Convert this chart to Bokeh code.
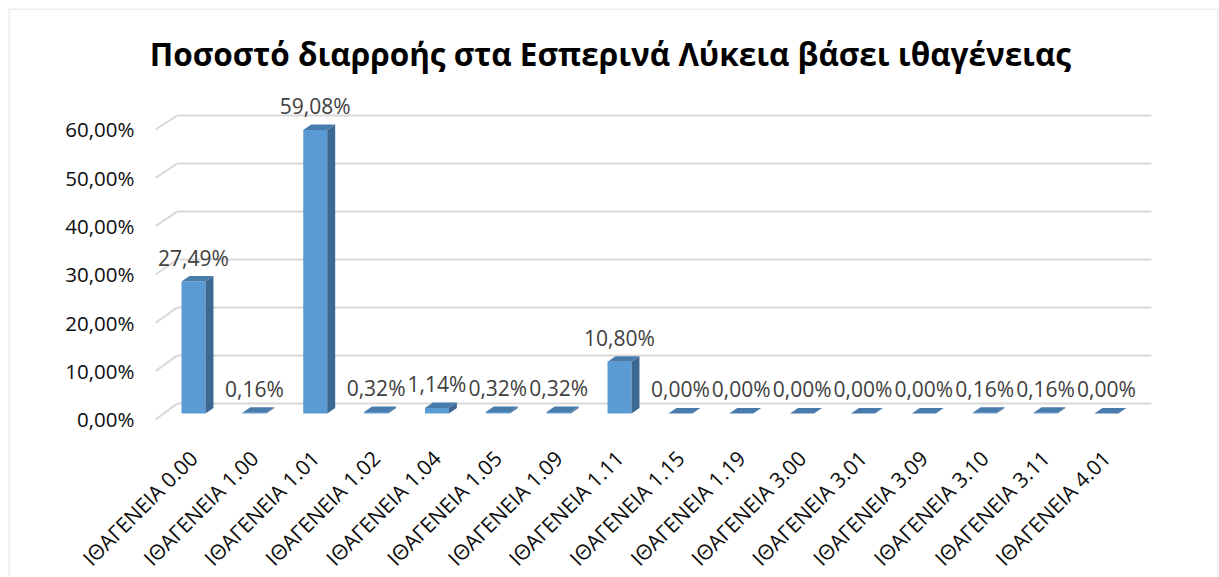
from bokeh.plotting import figure
from bokeh.models import Range1d, ColumnDataSource, Span
from bokeh.core.properties import value
from bokeh.embed import file_html
from bokeh.resources import INLINE

# ---------------- data ----------------
title_text = "Ποσοστό διαρροής στα Εσπερινά Λύκεια βάσει ιθαγένειας"
categories = ["ΙΘΑΓΕΝΕΙΑ 0.00", "ΙΘΑΓΕΝΕΙΑ 1.00", "ΙΘΑΓΕΝΕΙΑ 1.01", "ΙΘΑΓΕΝΕΙΑ 1.02",
              "ΙΘΑΓΕΝΕΙΑ 1.04", "ΙΘΑΓΕΝΕΙΑ 1.05", "ΙΘΑΓΕΝΕΙΑ 1.09", "ΙΘΑΓΕΝΕΙΑ 1.11",
              "ΙΘΑΓΕΝΕΙΑ 1.15", "ΙΘΑΓΕΝΕΙΑ 1.19", "ΙΘΑΓΕΝΕΙΑ 3.00", "ΙΘΑΓΕΝΕΙΑ 3.01",
              "ΙΘΑΓΕΝΕΙΑ 3.09", "ΙΘΑΓΕΝΕΙΑ 3.10", "ΙΘΑΓΕΝΕΙΑ 3.11", "ΙΘΑΓΕΝΕΙΑ 4.01"]
values = [27.49, 0.16, 59.08, 0.32, 1.14, 0.32, 0.32, 10.80,
          0.00, 0.00, 0.00, 0.00, 0.00, 0.16, 0.16, 0.00]
y_ticks = [0, 10, 20, 30, 40, 50, 60]


def pct(v):
    return f"{v:.2f}".replace(".", ",") + "%"


value_labels = [pct(v) for v in values]
y_tick_labels = [pct(t) for t in y_ticks]

# ---------------- style constants (3D look) ----------------
HALF = 0.197        # half width of bar front face (category units)
DX = 0.131          # depth offset x (category units)
DY = 1.15           # depth offset y (value units)
BACK = 2.1          # back wall offset of gridlines (value units)
FRONT = -1.25       # front edge offset (value units)
FRONT_SCALE = 1.007 # slight perspective on the front edge
WALL_X0 = -0.263    # back wall left edge
WALL_X1 = 15.74     # back wall right edge
FRONT_X = -0.624    # front left edge of the wall diagonals
LABEL_GAP = 5.0     # data label distance above bar
YLAB_X = -0.97      # y tick label right edge
XLAB_DX = 0.0
XLAB_Y = -8.5

FONT = "Open Sans"
FRONT_COLOR = "#5b9bd5"
SIDE_COLOR = "#3d6892"
TOP_COLOR = "#4a7bad"
GRID_COLOR = "#d9d9d9"
BORDER_COLOR = "#d9d9d9"

X0, X1 = -3.0398, 16.842
Y0, Y1 = -34.167, 84.375

p = figure(width=1219, height=577, output_backend="svg", toolbar_location=None,
           x_range=Range1d(X0, X1), y_range=Range1d(Y0, Y1),
           x_axis_location=None, y_axis_location=None,
           min_border_left=8, min_border_top=8, min_border_right=1, min_border_bottom=0)
p.grid.visible = False
p.outline_line_color = None
p.background_fill_color = "white"
p.border_fill_color = "white"

# chart border (left, top, right)
px_x = (X1 - X0) / 1210.0
px_y = (Y1 - Y0) / 569.0
p.add_layout(Span(location=X0 + 0.5 * px_x, dimension="height", line_color=BORDER_COLOR, line_width=1))
p.add_layout(Span(location=X1 - 0.5 * px_x, dimension="height", line_color=BORDER_COLOR, line_width=1))
p.add_layout(Span(location=Y1 - 0.5 * px_y, dimension="width", line_color=BORDER_COLOR, line_width=1))

# ---------------- gridlines (back wall + left wall diagonals) ----------------
n = len(categories)
xs = list(range(n))
grid_src = ColumnDataSource(dict(
    x0=[WALL_X0] * len(y_ticks), x1=[WALL_X1] * len(y_ticks),
    y=[t + BACK for t in y_ticks],
    fx=[FRONT_X] * len(y_ticks), fy=[t * FRONT_SCALE + FRONT for t in y_ticks]))
p.segment(x0="x0", y0="y", x1="x1", y1="y", source=grid_src, line_color=GRID_COLOR, line_width=2)
p.segment(x0="fx", y0="fy", x1="x0", y1="y", source=grid_src, line_color=GRID_COLOR, line_width=2)

# ---------------- bars ----------------
p.quad(left=[x - HALF for x in xs], right=[x + HALF for x in xs],
       bottom=[0] * n, top=values, fill_color=FRONT_COLOR, line_color=None)
side_xs = [[x + HALF, x + HALF, x + HALF + DX, x + HALF + DX] for x in xs]
side_ys = [[0, v, v + DY, DY] for v in values]
p.patches(side_xs, side_ys, fill_color=SIDE_COLOR, line_color=None)
top_xs = [[x - HALF, x + HALF, x + HALF + DX, x - HALF + DX] for x in xs]
top_ys = [[v, v, v + DY, v + DY] for v in values]
p.patches(top_xs, top_ys, fill_color=TOP_COLOR, line_color=None)

# ---------------- data labels ----------------
p.text(x=xs, y=[v + LABEL_GAP for v in values], text=value_labels,
       text_align="center", text_baseline="middle",
       text_font=value(FONT), text_font_size=value("21px"), text_color="#404040")

# ---------------- y tick labels ----------------
p.text(x=[YLAB_X] * len(y_ticks), y=[t * FRONT_SCALE + FRONT for t in y_ticks], text=y_tick_labels,
       text_align="right", text_baseline="middle",
       text_font=value(FONT), text_font_size=value("20.5px"), text_color="#0d0d0d")

# ---------------- category labels ----------------
p.text(x=[x + XLAB_DX for x in xs], y=[XLAB_Y] * n, text=categories,
       angle=0.7854, text_align="right", text_baseline="middle",
       text_font=value(FONT), text_font_size=value("21px"), text_color="#0d0d0d")

# ---------------- title ----------------
p.text(x=[6.85], y=[75.0], text=[title_text], text_align="center", text_baseline="middle",
       text_font=value(FONT), text_font_style="bold", text_font_size=value("31.5px"),
       text_color="#000000")

open("out.html", "w").write(file_html(p, INLINE))
